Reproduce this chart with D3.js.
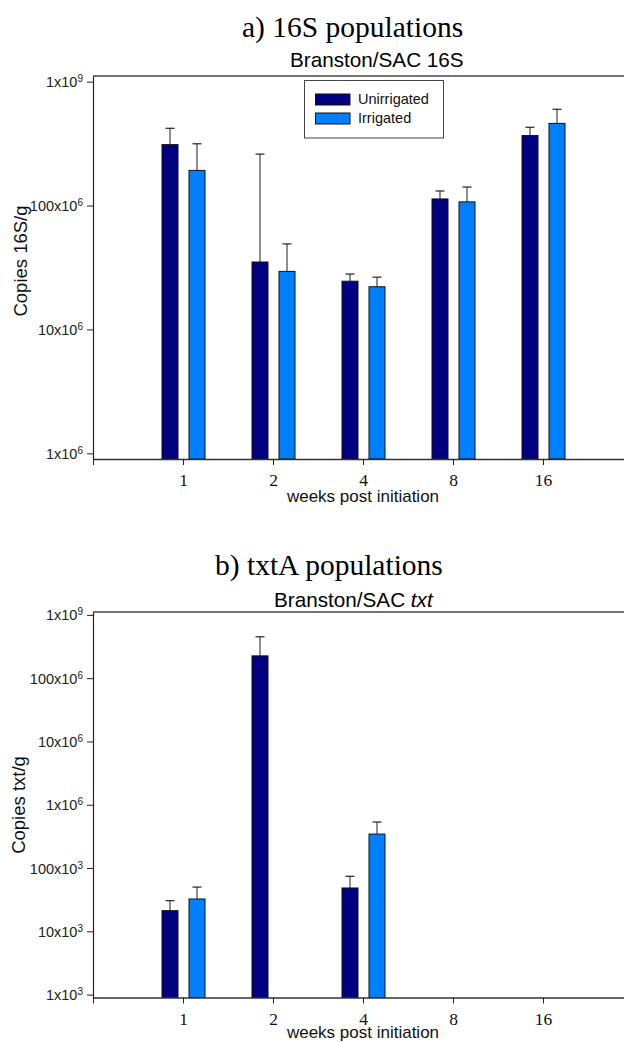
<!DOCTYPE html>
<html>
<head>
<meta charset="utf-8">
<script src="https://cdn.jsdelivr.net/npm/d3@7"></script>
<style>
  body { margin: 0; background: #fff; }
  svg { display: block; }
</style>
</head>
<body>
<svg id="chart" width="624" height="1042"></svg>
<script>
// Sampling weeks after irrigation started
const weeks = ["1", "2", "4", "8", "16"];
const groups = ["Unirrigated", "Irrigated"];
const groupColors = ["#000080", "#0080ff"];

// a) 16S copies per gram: bar means and upper ends of the error bars
const s16Unirrigated      = [3.1e8, 3.5e7, 2.45e7, 1.13e8, 3.67e8];
const s16UnirrigatedUpper = [4.2e8, 2.6e8, 2.8e7, 1.31e8, 4.28e8];
const s16Irrigated        = [1.92e8, 2.94e7, 2.21e7, 1.07e8, 4.6e8];
const s16IrrigatedUpper   = [3.15e8, 4.9e7, 2.64e7, 1.41e8, 5.98e8];

// b) txtA copies per gram (null = not detected)
const txtUnirrigated      = [2.12e4, 2.25e8, 4.84e4, null, null];
const txtUnirrigatedUpper = [3.05e4, 4.5e8, 7.4e4, null, null];
const txtIrrigated        = [3.24e4, null, 3.44e5, null, null];
const txtIrrigatedUpper   = [5.0e4, null, 5.33e5, null, null];

// Y tick labels written as mantissa x 10^exponent
const ticks16S         = [1e6, 1e7, 1e8, 1e9];
const ticks16SMantissa = ["1", "10", "100", "1"];
const ticks16SExponent = ["6", "6", "6", "9"];
const ticksTxt         = [1e3, 1e4, 1e5, 1e6, 1e7, 1e8, 1e9];
const ticksTxtMantissa = ["1", "10", "100", "1", "10", "100", "1"];
const ticksTxtExponent = ["3", "3", "3", "6", "6", "6", "9"];

const SANS = "'Liberation Sans', Arial, sans-serif";
const SERIF = "'Liberation Serif', 'Times New Roman', serif";

const svg = d3.select("#chart");

function drawPanel(o) {
  const g = svg.append("g");
  const left = 93, right = 633;
  const x = d3.scaleLinear().domain([0, weeks.length + 1]).range([left, right]);
  const y = d3.scaleLog().domain(o.domain).range([o.bottom, o.top]);
  const sub = d3.scaleBand().domain(groups).range([-21, 22]).paddingInner(11 / 27);

  // bars with upper error bars
  groups.forEach((grp, gi) => {
    const vals = o.values[gi], ups = o.upper[gi];
    weeks.forEach((w, i) => {
      if (vals[i] == null) return;
      const bx = x(i + 1) + sub(grp);
      const bw = sub.bandwidth();
      const top = y(vals[i]);
      const mx = bx + bw / 2;
      const eTop = y(ups[i]);
      g.append("line")
        .attr("x1", mx).attr("x2", mx).attr("y1", top).attr("y2", eTop)
        .attr("stroke", "#444").attr("stroke-width", 1.2);
      g.append("line")
        .attr("x1", mx - 4.5).attr("x2", mx + 4.5).attr("y1", eTop).attr("y2", eTop)
        .attr("stroke", "#222").attr("stroke-width", 1.2);
      g.append("rect")
        .attr("x", bx).attr("y", top)
        .attr("width", bw).attr("height", o.bottom - top)
        .attr("fill", groupColors[gi])
        .attr("stroke", "#111").attr("stroke-width", 1);
    });
  });

  // top frame line
  g.append("line")
    .attr("x1", left).attr("x2", right).attr("y1", o.top).attr("y2", o.top)
    .attr("stroke", "#444").attr("stroke-width", 1.4);

  // y axis with scientific tick labels
  const yAxis = d3.axisLeft(y).tickValues(o.ticks).tickSize(6).tickSizeOuter(0)
    .tickPadding(4).tickFormat(() => "");
  const ya = g.append("g").attr("transform", `translate(${left},0)`).call(yAxis);
  ya.select(".domain").attr("stroke", "#222").attr("stroke-width", 1.2);
  ya.selectAll(".tick line").attr("stroke", "#222").attr("stroke-width", 1);
  ya.selectAll(".tick text").each(function (d, i) {
    const t = d3.select(this)
      .attr("font-family", SANS).attr("font-size", 14.5).attr("fill", "#222")
      .attr("dy", "0.35em");
    t.append("tspan").text(o.mantissa[i] + "x10");
    t.append("tspan").attr("dy", -5).attr("font-size", 10).text(o.exponent[i]);
  });

  // x axis
  const xt = d3.range(0, weeks.length + 2);
  const xAxis = d3.axisBottom(x).tickValues(xt).tickSize(6).tickSizeOuter(0)
    .tickFormat(d => (d >= 1 && d <= weeks.length) ? weeks[d - 1] : "");
  const xa = g.append("g").attr("transform", `translate(0,${o.bottom})`).call(xAxis);
  xa.select(".domain").attr("stroke", "#333").attr("stroke-width", 1.4);
  xa.selectAll(".tick line").attr("stroke", "#222").attr("stroke-width", 1);
  xa.selectAll(".tick text")
    .attr("font-family", SERIF).attr("font-size", 17.5).attr("fill", "#111")
    .attr("y", 27).attr("dy", 0);

  // axis titles
  g.append("text")
    .attr("transform", `translate(${o.yLabelX},${o.yLabelY}) rotate(-90)`)
    .attr("text-anchor", "middle")
    .attr("font-family", SANS).attr("font-size", 18.5).attr("fill", "#111")
    .text(o.yLabel);
  g.append("text")
    .attr("x", x((weeks.length + 1) / 2)).attr("y", o.xLabelY)
    .attr("text-anchor", "middle")
    .attr("font-family", SANS).attr("font-size", 17).attr("fill", "#111")
    .text("weeks post initiation");

  // panel heading and subtitle
  g.append("text")
    .attr("x", o.titleX).attr("y", o.titleY)
    .attr("font-family", SERIF).attr("font-size", 29.5).attr("fill", "#000")
    .text(o.title);
  const st = g.append("text")
    .attr("x", o.subX).attr("y", o.subY)
    .attr("font-family", SANS).attr("font-size", 20.7).attr("fill", "#000");
  o.subtitle.forEach(p => {
    st.append("tspan").attr("font-style", p.italic ? "italic" : "normal").text(p.text);
  });
  return g;
}

// a) 16S populations
const ga = drawPanel({
  domain: [0.9e6, 1.11e9], top: 76, bottom: 459,
  values: [s16Unirrigated, s16Irrigated],
  upper: [s16UnirrigatedUpper, s16IrrigatedUpper],
  ticks: ticks16S, mantissa: ticks16SMantissa, exponent: ticks16SExponent,
  yLabel: "Copies 16S/g", yLabelX: 26.5, yLabelY: 261,
  xLabelY: 502,
  title: "a) 16S populations", titleX: 242, titleY: 37,
  subtitle: [{ text: "Branston/SAC 16S" }], subX: 290, subY: 66.5
});

// legend
const lg = ga.append("g");
lg.append("rect")
  .attr("x", 304.5).attr("y", 80.5).attr("width", 139).attr("height", 57.5)
  .attr("fill", "#fff").attr("stroke", "#444").attr("stroke-width", 1);
groups.forEach((grp, i) => {
  lg.append("rect")
    .attr("x", 315.5).attr("y", 94 + i * 19).attr("width", 34.5).attr("height", 11)
    .attr("fill", groupColors[i]).attr("stroke", "#111").attr("stroke-width", 1);
  lg.append("text")
    .attr("x", 358).attr("y", 104 + i * 19)
    .attr("font-family", SANS).attr("font-size", 14.5).attr("fill", "#111")
    .text(grp);
});

// b) txtA populations
drawPanel({
  domain: [0.9e3, 1.11e9], top: 612, bottom: 997.5,
  values: [txtUnirrigated, txtIrrigated],
  upper: [txtUnirrigatedUpper, txtIrrigatedUpper],
  ticks: ticksTxt, mantissa: ticksTxtMantissa, exponent: ticksTxtExponent,
  yLabel: "Copies txt/g", yLabelX: 25, yLabelY: 805,
  xLabelY: 1038,
  title: "b) txtA populations", titleX: 215, titleY: 575,
  subtitle: [{ text: "Branston/SAC " }, { text: "txt", italic: true }], subX: 274, subY: 606.5
});
</script>
</body>
</html>
